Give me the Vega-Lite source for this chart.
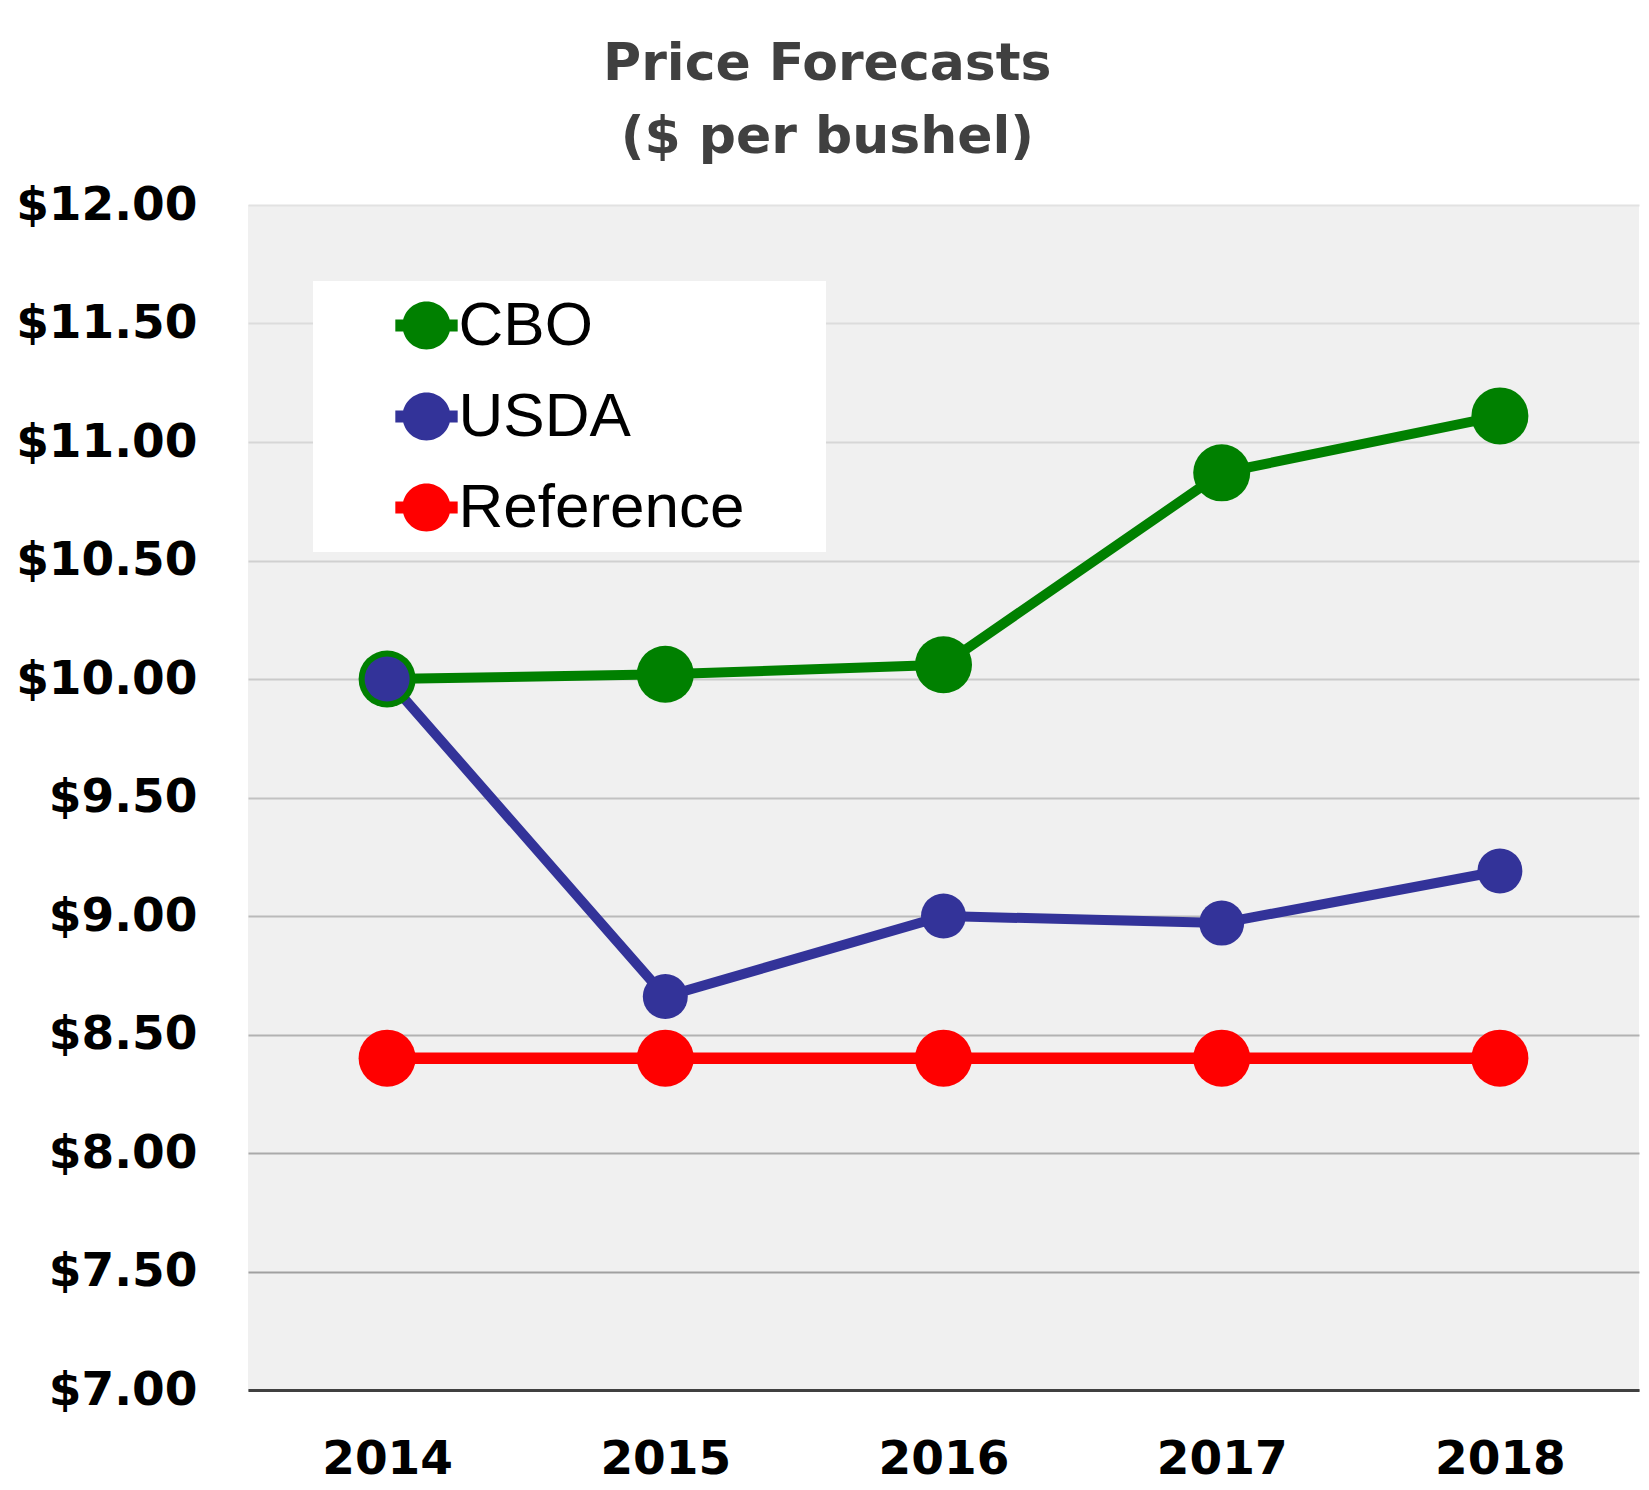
{
  "$schema": "https://vega.github.io/schema/vega-lite/v6.json",
  "autosize": {"type": "none"},
  "width": 1391,
  "height": 1185,
  "padding": {"left": 248, "top": 205, "right": 10, "bottom": 100},
  "background": "white",
  "title": {
    "text": ["Price Forecasts", "($ per bushel)"],
    "anchor": "middle",
    "frame": "bounds",
    "font": "DejaVu Sans",
    "fontSize": 52,
    "fontWeight": "bold",
    "color": "#404040",
    "lineHeight": 73,
    "offset": 17
  },
  "config": {
    "view": {"fill": "#f0f0f0", "stroke": null},
    "font": "DejaVu Sans"
  },
  "data": {
    "values": [
      {"year": "2014", "series": "CBO", "price": 10.00},
      {"year": "2015", "series": "CBO", "price": 10.02},
      {"year": "2016", "series": "CBO", "price": 10.06},
      {"year": "2017", "series": "CBO", "price": 10.87},
      {"year": "2018", "series": "CBO", "price": 11.11},
      {"year": "2014", "series": "USDA", "price": 10.00},
      {"year": "2015", "series": "USDA", "price": 8.66},
      {"year": "2016", "series": "USDA", "price": 9.00},
      {"year": "2017", "series": "USDA", "price": 8.97},
      {"year": "2018", "series": "USDA", "price": 9.19},
      {"year": "2014", "series": "Reference", "price": 8.40},
      {"year": "2015", "series": "Reference", "price": 8.40},
      {"year": "2016", "series": "Reference", "price": 8.40},
      {"year": "2017", "series": "Reference", "price": 8.40},
      {"year": "2018", "series": "Reference", "price": 8.40}
    ]
  },
  "encoding": {
    "x": {
      "field": "year",
      "type": "ordinal",
      "scale": {"type": "point", "padding": 0.5},
      "axis": {
        "title": null,
        "labelAngle": 0,
        "labelFont": "DejaVu Sans",
        "labelFontSize": 47,
        "labelFontWeight": "bold",
        "labelColor": "#000000",
        "labelPadding": 46,
        "ticks": false,
        "tickSize": 0,
        "domain": true,
        "domainColor": "#404040",
        "domainWidth": 3,
        "grid": false
      }
    },
    "y": {
      "field": "price",
      "type": "quantitative",
      "scale": {"domain": [7, 12], "nice": false, "zero": false},
      "axis": {
        "title": null,
        "values": [7, 7.5, 8, 8.5, 9, 9.5, 10, 10.5, 11, 11.5, 12],
        "labelExpr": "'$' + format(datum.value, '.2f')",
        "labelFont": "DejaVu Sans",
        "labelFontSize": 47,
        "labelFontWeight": "bold",
        "labelColor": "#000000",
        "labelPadding": 51,
        "labelLimit": 0,
        "ticks": false,
        "tickSize": 0,
        "domain": false,
        "grid": true,
        "gridWidth": 2,
        "gridColor": {
          "condition": [
            {"test": "datum.value >= 12", "value": "#e2e2e2"},
            {"test": "datum.value >= 11.5", "value": "#dcdcdc"},
            {"test": "datum.value >= 11", "value": "#d6d6d6"},
            {"test": "datum.value >= 10.5", "value": "#d0d0d0"},
            {"test": "datum.value >= 10", "value": "#cacaca"},
            {"test": "datum.value >= 9.5", "value": "#c2c2c2"},
            {"test": "datum.value >= 9", "value": "#bababa"},
            {"test": "datum.value >= 8.5", "value": "#b2b2b2"},
            {"test": "datum.value >= 8", "value": "#aaaaaa"}
          ],
          "value": "#a0a0a0"
        }
      }
    }
  },
  "layer": [
    {
      "mark": {"type": "line"},
      "encoding": {
        "stroke": {
          "field": "series",
          "type": "nominal",
          "scale": {"domain": ["Reference", "CBO", "USDA"], "range": ["#ff0000", "#008000", "#333399"]},
          "legend": null
        },
        "strokeWidth": {
          "field": "series",
          "type": "nominal",
          "scale": {"type": "ordinal", "domain": ["USDA", "Reference", "CBO"], "range": [10, 11.5, 10]},
          "legend": null
        },
        "order": {"field": "year"}
      }
    },
    {
      "mark": {"type": "point", "filled": true, "opacity": 1, "shape": "circle"},
      "encoding": {
        "color": {
          "field": "series",
          "type": "nominal",
          "scale": {"domain": ["CBO", "USDA", "Reference"], "range": ["#008000", "#333399", "#ff0000"]},
          "legend": {
            "title": null,
            "orient": "none",
            "legendX": 65,
            "legendY": 76,
            "fillColor": "white",
            "padding": 13.5,
            "rowPadding": 29,
            "symbolType": "M-1,0 A1,1 0 1,1 1,0 A1,1 0 1,1 -1,0 Z M-1.3,-0.25 L1.3,-0.25 L1.3,0.25 L-1.3,0.25 Z",
            "symbolSize": 2300,
            "symbolOffset": 69,
            "symbolStrokeWidth": 0,
            "labelOffset": 1,
            "labelFont": "Liberation Sans",
            "labelFontSize": 62,
            "labelColor": "#000000",
            "labelExpr": "datum.label + '\u2003\u200a\u200b'",
            "labelLimit": 0
          }
        },
        "size": {
          "field": "series",
          "type": "nominal",
          "scale": {"type": "ordinal", "domain": ["Reference", "USDA", "CBO"], "range": [3250, 2025, 3250]},
          "legend": null
        }
      }
    }
  ]
}
